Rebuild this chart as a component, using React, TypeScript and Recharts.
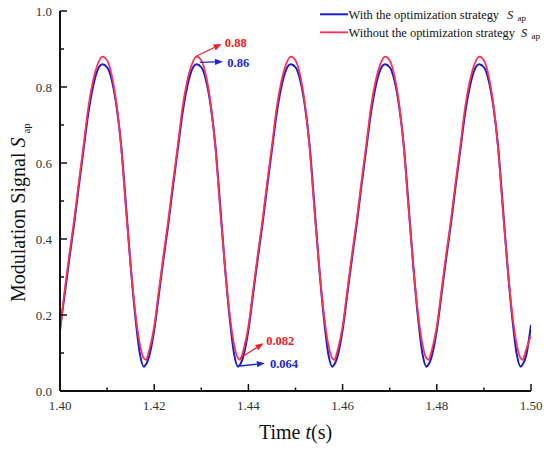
import React from 'react';
import { LineChart, Line, XAxis, YAxis, ReferenceLine, Legend, Label } from 'recharts';

// Time samples (s)
const times = [
  1.400, 1.401, 1.402, 1.403, 1.404, 1.405, 1.406, 1.407, 1.408, 1.409, 1.410, 1.411, 1.412, 1.413, 1.414, 1.415, 1.416, 1.417, 1.4178, 1.418, 1.4182, 1.419,
  1.420, 1.421, 1.422, 1.423, 1.424, 1.425, 1.426, 1.427, 1.428, 1.429, 1.430, 1.431, 1.432, 1.433, 1.434, 1.435, 1.436, 1.437, 1.4378, 1.438, 1.4382, 1.439,
  1.440, 1.441, 1.442, 1.443, 1.444, 1.445, 1.446, 1.447, 1.448, 1.449, 1.450, 1.451, 1.452, 1.453, 1.454, 1.455, 1.456, 1.457, 1.4578, 1.458, 1.4582, 1.459,
  1.460, 1.461, 1.462, 1.463, 1.464, 1.465, 1.466, 1.467, 1.468, 1.469, 1.470, 1.471, 1.472, 1.473, 1.474, 1.475, 1.476, 1.477, 1.4778, 1.478, 1.4782, 1.479,
  1.480, 1.481, 1.482, 1.483, 1.484, 1.485, 1.486, 1.487, 1.488, 1.489, 1.490, 1.491, 1.492, 1.493, 1.494, 1.495, 1.496, 1.497, 1.4978, 1.498, 1.4982, 1.499,
  1.500,
];

// With the optimization strategy (blue)
const withOpt = [
  0.165, 0.255, 0.35, 0.44, 0.54, 0.635, 0.73, 0.80, 0.845, 0.86, 0.852, 0.818, 0.75, 0.645, 0.49, 0.33, 0.195, 0.095, 0.064, 0.066, 0.069, 0.095,
  0.16, 0.255, 0.35, 0.44, 0.54, 0.635, 0.73, 0.80, 0.845, 0.86, 0.852, 0.818, 0.75, 0.645, 0.49, 0.33, 0.195, 0.095, 0.064, 0.066, 0.069, 0.095,
  0.16, 0.255, 0.35, 0.44, 0.54, 0.635, 0.73, 0.80, 0.845, 0.86, 0.852, 0.818, 0.75, 0.645, 0.49, 0.33, 0.195, 0.095, 0.064, 0.066, 0.069, 0.095,
  0.16, 0.255, 0.35, 0.44, 0.54, 0.635, 0.73, 0.80, 0.845, 0.86, 0.852, 0.818, 0.75, 0.645, 0.49, 0.33, 0.195, 0.095, 0.064, 0.066, 0.069, 0.095,
  0.16, 0.255, 0.35, 0.44, 0.54, 0.635, 0.73, 0.80, 0.845, 0.86, 0.852, 0.818, 0.75, 0.645, 0.49, 0.33, 0.195, 0.095, 0.064, 0.066, 0.069, 0.095,
  0.174,
];

// Without the optimization strategy (red)
const withoutOpt = [
  0.155, 0.265, 0.36, 0.45, 0.55, 0.645, 0.745, 0.815, 0.86, 0.88, 0.87, 0.83, 0.755, 0.64, 0.48, 0.33, 0.205, 0.12, 0.086, 0.084, 0.082, 0.11,
  0.17, 0.265, 0.36, 0.45, 0.55, 0.645, 0.745, 0.815, 0.86, 0.88, 0.87, 0.83, 0.755, 0.64, 0.48, 0.33, 0.205, 0.12, 0.086, 0.084, 0.082, 0.11,
  0.17, 0.265, 0.36, 0.45, 0.55, 0.645, 0.745, 0.815, 0.86, 0.88, 0.87, 0.83, 0.755, 0.64, 0.48, 0.33, 0.205, 0.12, 0.086, 0.084, 0.082, 0.11,
  0.17, 0.265, 0.36, 0.45, 0.55, 0.645, 0.745, 0.815, 0.86, 0.88, 0.87, 0.83, 0.755, 0.64, 0.48, 0.33, 0.205, 0.12, 0.086, 0.084, 0.082, 0.11,
  0.17, 0.265, 0.36, 0.45, 0.55, 0.645, 0.745, 0.815, 0.86, 0.88, 0.87, 0.83, 0.755, 0.64, 0.48, 0.33, 0.205, 0.12, 0.086, 0.084, 0.082, 0.11,
  0.147,
];

const xTicks = [1.40, 1.41, 1.42, 1.43, 1.44, 1.45, 1.46, 1.47, 1.48, 1.49, 1.50];
const yTicks = [0, 0.1, 0.2, 0.3, 0.4, 0.5, 0.6, 0.7, 0.8, 0.9, 1.0];

const seriesNames = ['With the optimization strategy', 'Without the optimization strategy'];

// Annotations: arrow start (data point) and arrow tip (data coords), label text
const annLabels = ['0.88', '0.86', '0.082', '0.064'];
const annFrom = [[1.4290, 0.8816], [1.4297, 0.865], [1.4382, 0.086], [1.4382, 0.0658]];
const annTo = [[1.4343, 0.913], [1.4346, 0.8666], [1.4432, 0.1255], [1.4435, 0.0729]];

const BLUE = '#1c1cc8';
const RED = '#ff3050';
const BLUE_TXT = '#1e28d2';
const RED_TXT = '#ee1c25';
const FONT = '"Liberation Serif", "Times New Roman", serif';

const data = times.map((t, i) => ({ t, withOpt: withOpt[i], withoutOpt: withoutOpt[i] }));

const XTick = (props: any) => {
  const { x, y, payload } = props;
  const v = payload.value as number;
  const major = Math.round(v * 100) % 2 === 0;
  return (
    <g>
      <line x1={x} x2={x} y1={y} y2={y - (major ? 7 : 3.5)} stroke="#111" strokeWidth={1.5} />
      {major && (
        <text x={x} y={y + 19} textAnchor="middle" fontSize={13} fill="#333" fontFamily={FONT}>
          {v.toFixed(2)}
        </text>
      )}
    </g>
  );
};

const YTick = (props: any) => {
  const { x, y, payload } = props;
  const v = payload.value as number;
  const major = Math.round(v * 10) % 2 === 0;
  return (
    <g>
      <line x1={x} x2={x + (major ? 7 : 4)} y1={y} y2={y} stroke="#111" strokeWidth={1.5} />
      {major && (
        <text x={x - 8} y={y + 4.5} textAnchor="end" fontSize={13} fill="#333" fontFamily={FONT}>
          {v.toFixed(1)}
        </text>
      )}
    </g>
  );
};

const makeArrow = (text: string, color: string, lineColor: string, dx: number, dy: number) => (props: any) => {
  const { x1, y1, x2, y2 } = props;
  if ([x1, y1, x2, y2].some((n) => typeof n !== 'number' || isNaN(n))) return null;
  const ang = Math.atan2(y2 - y1, x2 - x1);
  const L = 8;
  const W = 3.2;
  const bx = x2 - L * Math.cos(ang);
  const by = y2 - L * Math.sin(ang);
  const px = -Math.sin(ang) * W;
  const py = Math.cos(ang) * W;
  return (
    <g>
      <line x1={x1} y1={y1} x2={bx} y2={by} stroke={lineColor} strokeWidth={1.3} />
      <polygon points={`${x2},${y2} ${bx + px},${by + py} ${bx - px},${by - py}`} fill={lineColor} />
      <text x={x2 + dx} y={y2 + dy} fontSize={12.5} fontWeight="bold" fill={color} fontFamily={FONT}>
        {text}
      </text>
    </g>
  );
};

const annStyles = [
  { color: RED_TXT, line: '#f01c2c', dx: 3.3, dy: 3 },
  { color: BLUE_TXT, line: '#1e28d2', dx: 4.3, dy: 5 },
  { color: RED_TXT, line: '#f01c2c', dx: 2.7, dy: 1.8 },
  { color: BLUE_TXT, line: '#1e28d2', dx: 5, dy: 4.3 },
];

const LegendContent = () => (
  <svg width={232} height={42} style={{ display: 'block', overflow: 'visible' }}>
    <line x1={2} x2={30} y1={14.3} y2={14.3} stroke={BLUE} strokeWidth={2} />
    <text x={30.5} y={18.6} fontSize={12.4} fill="#111" fontFamily={FONT}>
      {seriesNames[0]}
    </text>
    <text x={189} y={18.6} fontSize={12.5} fontStyle="italic" fill="#111" fontFamily={FONT}>S</text>
    <text x={199.5} y={21} fontSize={9} fill="#111" fontFamily={FONT}>ap</text>
    <line x1={2} x2={30} y1={32.3} y2={32.3} stroke={RED} strokeWidth={1.8} />
    <text x={30.5} y={36.6} fontSize={12.4} fill="#111" fontFamily={FONT}>
      {seriesNames[1]}
    </text>
    <text x={203} y={36.6} fontSize={12.5} fontStyle="italic" fill="#111" fontFamily={FONT}>S</text>
    <text x={213.5} y={39} fontSize={9} fill="#111" fontFamily={FONT}>ap</text>
  </svg>
);

const YTitle = () => (
  <text transform="rotate(-90)" x={-302} y={25} fontSize={20} fill="#111" fontFamily={FONT}>
    Modulation Signal <tspan fontStyle="italic">S</tspan>
    <tspan dx={4} dy={5} fontSize={11}>ap</tspan>
  </text>
);

const XTitle = () => (
  <text x={295.5} y={439} textAnchor="middle" fontSize={20} fill="#111" fontFamily={FONT}>
    Time <tspan fontStyle="italic">t</tspan>(s)
  </text>
);

export default function App() {
  return (
    <div style={{ position: 'absolute', left: 0, top: 0, width: 550, height: 450, background: '#fff' }}>
      <LineChart width={550} height={450} data={data} margin={{ top: 11, right: 19, left: 0, bottom: 0 }}>
        <XAxis
          dataKey="t"
          type="number"
          domain={[1.4, 1.5]}
          ticks={xTicks}
          interval={0}
          height={59}
          tickSize={0}
          tickMargin={0}
          tickLine={false}
          tick={<XTick />}
          axisLine={{ stroke: '#111', strokeWidth: 2 }}
          allowDataOverflow
        >
          <Label content={<XTitle />} />
        </XAxis>
        <YAxis
          type="number"
          domain={[0, 1]}
          ticks={yTicks}
          interval={0}
          width={60}
          tickSize={0}
          tickMargin={0}
          tickLine={false}
          tick={<YTick />}
          axisLine={{ stroke: '#111', strokeWidth: 2 }}
          allowDataOverflow
        >
          <Label content={<YTitle />} />
        </YAxis>
        <Legend
          layout="vertical"
          align="center"
          verticalAlign="middle"
          content={<LegendContent />}
          wrapperStyle={{ position: 'absolute', left: 318, top: 0, width: 232, height: 42 }}
        />
        <Line
          type="monotone"
          dataKey="withOpt"
          name={seriesNames[0]}
          stroke={BLUE}
          strokeWidth={2}
          dot={false}
          isAnimationActive={false}
        />
        <Line
          type="monotone"
          dataKey="withoutOpt"
          name={seriesNames[1]}
          stroke={RED}
          strokeWidth={1.8}
          dot={false}
          isAnimationActive={false}
        />
        {annLabels.map((lbl, i) => (
          <ReferenceLine
            key={lbl}
            segment={[
              { x: annFrom[i][0], y: annFrom[i][1] },
              { x: annTo[i][0], y: annTo[i][1] },
            ]}
            shape={makeArrow(lbl, annStyles[i].color, annStyles[i].line, annStyles[i].dx, annStyles[i].dy)}
            ifOverflow="visible"
          />
        ))}
      </LineChart>
    </div>
  );
}
